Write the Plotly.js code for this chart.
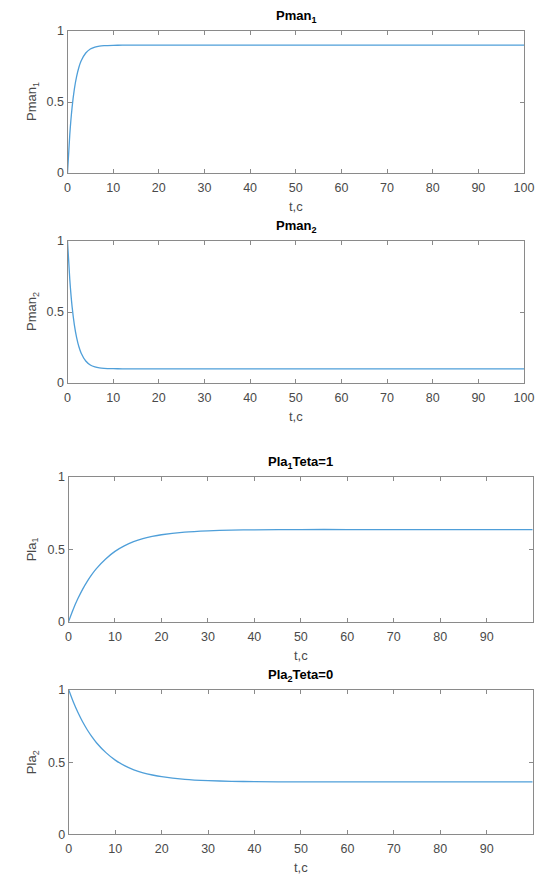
<!DOCTYPE html>
<html>
<head>
<meta charset="utf-8">
<script src="https://cdn.plot.ly/plotly-3.0.1.min.js"></script>
<style>html,body{margin:0;padding:0;background:#fff;}#chart{width:554px;height:878px;}</style>
</head>
<body>
<div id="chart"></div>
<script>
// ---- data ----
const tMan = [0, 0.5, 1, 1.5, 2, 2.5, 3, 4, 5, 6, 7, 8, 10, 12, 15, 20, 30, 40, 50, 60, 70, 80, 90, 100];
const pman1 = [0, 0.27, 0.46, 0.59, 0.68, 0.745, 0.79, 0.845, 0.873, 0.887, 0.894, 0.897, 0.899, 0.9, 0.9, 0.9, 0.9, 0.9, 0.9, 0.9, 0.9, 0.9, 0.9, 0.9];
const pman2 = [1, 0.73, 0.54, 0.41, 0.32, 0.255, 0.21, 0.155, 0.127, 0.113, 0.106, 0.103, 0.101, 0.1, 0.1, 0.1, 0.1, 0.1, 0.1, 0.1, 0.1, 0.1, 0.1, 0.1];
const tLa = [0, 1, 2, 3, 4, 5, 6, 8, 10, 12, 14, 16, 18, 20, 25, 30, 35, 40, 50, 60, 70, 80, 90, 99.9];
const pla1 = [0, 0.085, 0.158, 0.222, 0.277, 0.325, 0.367, 0.434, 0.486, 0.524, 0.553, 0.574, 0.589, 0.601, 0.619, 0.628, 0.633, 0.635, 0.637, 0.637, 0.637, 0.637, 0.637, 0.637];
const pla2 = [1, 0.915, 0.842, 0.778, 0.723, 0.675, 0.633, 0.566, 0.514, 0.476, 0.447, 0.426, 0.411, 0.399, 0.381, 0.372, 0.367, 0.365, 0.363, 0.363, 0.363, 0.363, 0.363, 0.363];
const xTicksMan = [0, 10, 20, 30, 40, 50, 60, 70, 80, 90, 100];
const xTicksLa = [0, 10, 20, 30, 40, 50, 60, 70, 80, 90];
const yTicks = [0, 0.5, 1];
const yTickText = ['0', '0.5', '1'];
const titles = ['Pman<sub>1</sub>', 'Pman<sub>2</sub>', 'Pla<sub>1</sub>Teta=1', 'Pla<sub>2</sub>Teta=0'];
const yLabels = ['Pman<sub>1</sub>', 'Pman<sub>2</sub>', 'Pla<sub>1</sub>', 'Pla<sub>2</sub>'];
const xLabel = 't,c';

// ---- layout geometry (pixels) ----
const W = 554, H = 878;
const boxes = [
  {x0: 67.5, x1: 524, y0: 31, y1: 173},
  {x0: 67.5, x1: 524, y0: 241, y1: 383},
  {x0: 68.5, x1: 532.7, y0: 477, y1: 621.7},
  {x0: 68.8, x1: 532.7, y0: 690, y1: 834.3}
];
const xs = [tMan, tMan, tLa, tLa];
const ys = [pman1, pman2, pla1, pla2];
const xRanges = [[0, 100], [0, 100], [0, 99.9], [0, 99.9]];
const xTickSets = [xTicksMan, xTicksMan, xTicksLa, xTicksLa];

const FONT = 'Liberation Sans, Arial, sans-serif';
const axisColor = '#8a8a8a';
const tickFontColor = '#4a4a4a';

const data = [];
const layout = {
  width: W, height: H,
  margin: {l: 0, r: 0, t: 0, b: 0},
  paper_bgcolor: '#fff', plot_bgcolor: '#fff',
  showlegend: false,
  font: {family: FONT, size: 12.5, color: tickFontColor},
  annotations: []
};

boxes.forEach((b, i) => {
  const n = i + 1;
  const xa = 'xaxis' + (n === 1 ? '' : n);
  const ya = 'yaxis' + (n === 1 ? '' : n);
  data.push({
    x: xs[i], y: ys[i], type: 'scatter', mode: 'lines',
    line: {color: '#4f9fd9', width: 1.3, shape: 'spline', smoothing: 0.6},
    xaxis: 'x' + (n === 1 ? '' : n), yaxis: 'y' + (n === 1 ? '' : n),
    hoverinfo: 'skip'
  });
  layout[xa] = {
    domain: [b.x0 / W, b.x1 / W],
    anchor: 'y' + (n === 1 ? '' : n),
    range: xRanges[i], tickmode: 'array', tickvals: xTickSets[i],
    ticks: 'inside', ticklen: 4, tickcolor: axisColor, tickwidth: 1,
    showline: true, linecolor: axisColor, linewidth: 1, mirror: 'ticks',
    showgrid: false, zeroline: false, automargin: false,
    ticklabelstandoff: 3,
    tickfont: {family: FONT, size: 12.5, color: tickFontColor}
  };
  layout[ya] = {
    domain: [1 - b.y1 / H, 1 - b.y0 / H],
    anchor: 'x' + (n === 1 ? '' : n),
    range: [0, 1], tickmode: 'array', tickvals: yTicks, ticktext: yTickText,
    ticks: 'inside', ticklen: 4, tickcolor: axisColor, tickwidth: 1,
    showline: true, linecolor: axisColor, linewidth: 1, mirror: 'ticks',
    showgrid: false, zeroline: false, automargin: false,
    tickfont: {family: FONT, size: 12.5, color: tickFontColor}
  };
  // subplot title
  layout.annotations.push({
    text: '<b>' + titles[i] + '</b>', xref: 'paper', yref: 'paper',
    x: ((b.x0 + b.x1) / 2) / W, y: 1 - (b.y0 - 4) / H,
    xanchor: 'center', yanchor: 'bottom', showarrow: false,
    font: {family: FONT, size: 13, color: '#000'}
  });
  // x label
  layout.annotations.push({
    text: xLabel, xref: 'paper', yref: 'paper',
    x: ((b.x0 + b.x1) / 2) / W, y: 1 - (b.y1 + 24) / H,
    xanchor: 'center', yanchor: 'top', showarrow: false,
    font: {family: FONT, size: 13, color: tickFontColor}
  });
  // y label
  layout.annotations.push({
    text: yLabels[i], xref: 'paper', yref: 'paper',
    x: 32 / W, y: 1 - ((b.y0 + b.y1) / 2) / H,
    xanchor: 'center', yanchor: 'middle', textangle: -90, showarrow: false,
    font: {family: FONT, size: 13, color: tickFontColor}
  });
});

Plotly.newPlot('chart', data, layout, {staticPlot: true, displayModeBar: false});
</script>
</body>
</html>
